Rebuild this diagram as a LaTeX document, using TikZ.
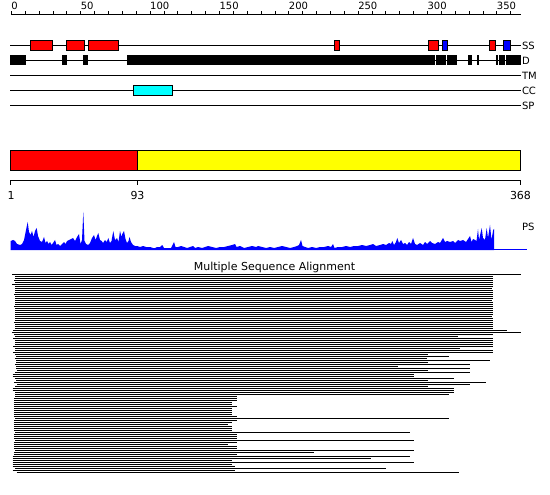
\documentclass[tikz,border=0pt]{standalone}
\usepackage{fontspec}
\setmainfont{DejaVu Sans}
\definecolor{ssred}{RGB}{255,0,0}
\definecolor{ssblue}{RGB}{0,0,255}
\definecolor{cccyan}{RGB}{0,255,255}
\definecolor{baryellow}{RGB}{255,255,0}
\begin{document}
\begin{tikzpicture}[x=1pt,y=-1pt,line width=1pt,
  lbl/.style={inner sep=0pt,font=\fontsize{10}{12}\selectfont},
  biglbl/.style={inner sep=0pt,font=\fontsize{11}{13}\selectfont},
  trk/.style={line width=1pt,black},
  boxline/.style={draw=black,line width=1pt},
  msa/.style={line width=1pt,black}]
\useasboundingbox[fill=white] (0,0) rectangle (550,495);

% ruler
\draw[trk] (11,14.5) -- (521,14.5);
\foreach \k in {0,...,36} \draw[trk] ({11.5+\k*13.87},14.5) -- ({11.5+\k*13.87},11.5);
\foreach \v [count=\i from 0] in {0,50,100,150,200,250,300,350}
  \node[lbl,anchor=base west] (r\v) at ({11+\i*69.35},10) {\v};

% tracks
\foreach \y/\t in {45.5/SS,60.5/D,75.5/TM,90.5/CC,105.5/SP}{
  \draw[trk] (10,\y) -- (521,\y);
  \node[lbl,anchor=west] (t\t) at (521.5,\y) {\t};
}

% SS boxes
\foreach \a/\b/\c in {30.7/52.3/ssred,66.7/84.3/ssred,88.3/118.3/ssred,334.3/339.3/ssred,
  428.3/438.3/ssred,442.3/447.3/ssblue,489.3/495.3/ssred,503.3/510.7/ssblue}
  \filldraw[boxline,fill=\c] (\a,40.5) rectangle (\b,50.5);

% D boxes
\foreach \a/\b in {10/25.7,62.3/66.7,83/87.7,127/435,436/446,447/456.7,468.3/472.3,
  477.3/479,496/497.7,499.3/505,506/520.7}
  \fill[black] (\a,55) rectangle (\b,65.5);

% CC box
\filldraw[boxline,fill=cccyan] (133.3,85.5) rectangle (172.3,95.5);

% domain bar
\filldraw[boxline,fill=ssred] (10.7,150.5) rectangle (137.7,170.5);
\filldraw[boxline,fill=baryellow] (137.7,150.5) rectangle (520.7,170.5);
\draw[trk] (10.7,180.5) -- (520.7,180.5);
\foreach \x in {10.7,137.7,520.7} \draw[trk] (\x,180.5) -- (\x,185);
\node[biglbl,anchor=base] (a1) at (11,200) {1};
\node[biglbl,anchor=base] (a93) at (137.5,200) {93};
\node[biglbl,anchor=base] (a368) at (520.5,200) {368};

% PS profile
\fill[ssblue] (10.7,250)
  \foreach \x/\h in {10.7/9,13/10,15/9,17/6,20/5,22/6,24/10,26/20,27.7/28,29/18,30.5/15,32/19,
  33.5/13,35/19,36.7/22,38/14,40/9,42/8,44/13,45.5/7,47/9,48.5/6,50/8,51.5/5,53/7,55/10,
  56.5/5,58/6,60/4,62/6,64/8,65.5/6,67/9,69/10,71/11,73/12,75/9,77/13,79/16,80.5/6,82/10,
  83.3/38,84.5/9,86/6,88/5,90/7,92/12,94/15,95.5/10,97/14,98.3/17,100/10,101.7/9,103/7,
  105/10,106.7/8,108.3/12,110/7,111.5/9,113.3/19,115/10,117/12,118.5/8,120/19,121.5/13,
  122.3/16,124/19,125.5/11,127/7,128.5/9,129.5/13,131/8,133/5,135/4,137/4,140/3,143/4,
  146/3,150/3,153/2,155/2,157/3,160/3,162.3/5,164/2,168/2,171/2,174/8,175.5/3,178/3,181/4,
  184/3,187/2,190/3,193/4,195/2,198/3,202/2,205/3,208/4,212/3,216/2,220/3,224/3,228/4,
  232/5,235/6,236.5/3,240/4,244/2,248/3,252/4,256/3,258/4,262/3,266/2,270/3,274/2,278/3,
  282/4,286/3,290/2,294/3,297/4,299/5,301/10,302.5/4,305/3,308/2,312/3,316/2,320/3,324/3,
  328/4,331/3,333/6,334.5/2,338/3,342/3,346/4,350/3,354/4,358/4,362/5,366/4,370/5,373/6,
  376/4,380/5,383/6,386/5,389/7,391/6,392.3/9,394/5,396/8,397.3/12,399/7,401/10,403/6,
  405/7,407/5,409/8,411/6,413/12,415/6,417/5,420/7,423/5,425/8,427/6,430/9,432/7,435/6,
  438/8,440/7,443/12,445/8,447/9,450/8,453/9,455/7,458/10,460/9,463/10,466/8,468/11,
  470/14,471.5/8,473/11,475/10,476.5/9,478/21,479/10,481.7/22,483/12,485/10,486.7/22,
  488/12,490/25,491.5/10,492.3/15,493.2/20,494/21}
  { -- (\x,{250-\h}) } -- (494,250) -- cycle;
\draw[ssblue,line width=1pt] (10.7,249.5) -- (526.7,249.5);
\node[lbl,anchor=base west] (ps) at (521.7,230) {PS};

% MSA
\node[biglbl,anchor=base] (msat) at (274.5,270) {Multiple Sequence Alignment};
\foreach \s/\e [count=\i from 0] in {12/520.7,15/492.7,15/492.7,14/492.7,15/492.7,
  12/492.7,15/492.7,15/491.5,15/492.7,15/492.7,14/492.7,15/492.7,15/492.7,15/491.5,
  15/492.7,15/492.7,14/492.7,15/492.7,15/492.7,15/492.7,15/492.7,15/491.5,15/492.7,
  15/492.7,14/492.7,15/492.7,15/492.7,15/492.7,13/507.3,12/520.7,14/492.7,15/457.7,
  13/492.7,15/492.7,15/492.7,15/492.7,13/492.7,15/460,15/492.7,13/492.7,15/427.7,
  16/449,15/426.7,16/490,16/427.7,15/470,16/398.3,16/470,16.7/428.3,15/470.3,
  12.7/414.3,12.7/414.3,15/454.3,16/428.3,14/486.3,16.7/470.3,15/428.3,12.7/454.3,
  12.7/454.3,15/454.3,15/449,15/237.3,14/237.3,14/237.3,14/231.7,14/231.7,14/237.3,
  14/231.7,14/231.7,14/231.7,14/231.7,14/237.3,15/449,14/237.3,14/231.7,14/227.7,
  14/231.7,14/231.7,14/231.7,15/410.3,14/237.3,14/237.3,14/237.3,15/414.3,14/237.3,
  14/227.7,14/237.3,14/237.3,15/414.3,14/314.3,14/237.3,12.7/410.3,12.7/370.7,
  12.7/231.7,12.7/414.3,12.7/231.7,12.7/235,15/386.3,12.7/235,16.7/459.3}
  \draw[msa] (\s,{276.5+2*(\i-1)}) -- (\e,{276.5+2*(\i-1)});
\end{tikzpicture}
\end{document}
